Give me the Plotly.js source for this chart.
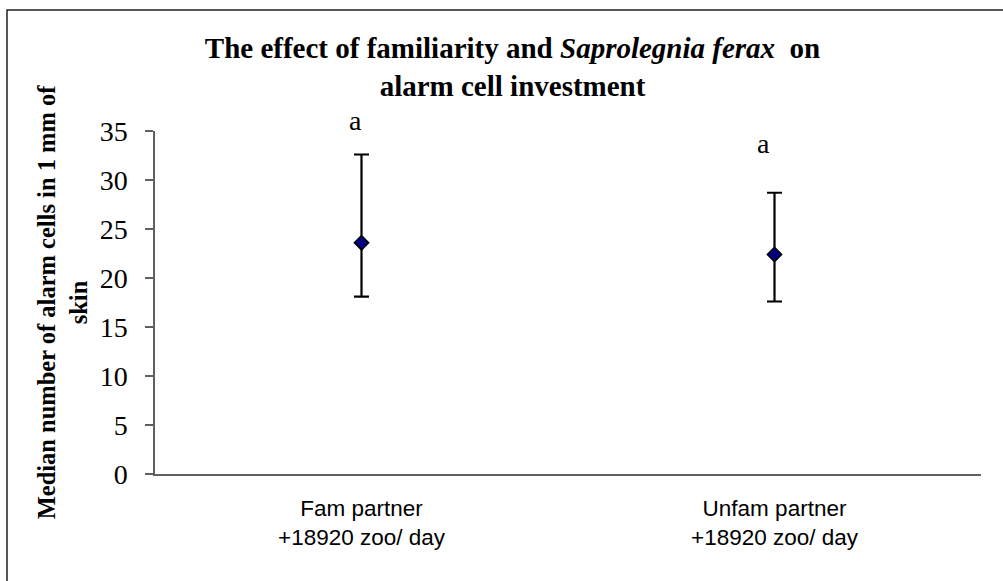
<!DOCTYPE html>
<html>
<head>
<meta charset="utf-8">
<script src="https://cdn.plot.ly/plotly-3.0.1.min.js"></script>
<style>
  html, body { margin: 0; padding: 0; background: #ffffff; }
  #chart { width: 1003px; height: 581px; }
</style>
</head>
<body>
<div id="chart"></div>
<script>
// Data
const categories = ["Fam partner<br>+18920 zoo/ day", "Unfam partner<br>+18920 zoo/ day"];
const medians = [23.6, 22.4];
const upperValues = [32.6, 28.7];
const lowerValues = [18.1, 17.6];
const letterLabels = ["a", "a"];
const letterHeights = [35.8, 33.4];
const yTickValues = [0, 5, 10, 15, 20, 25, 30, 35];
const yRange = [0, 35];

const errPlus = medians.map((m, i) => upperValues[i] - m);
const errMinus = medians.map((m, i) => m - lowerValues[i]);

const trace = {
  type: "scatter",
  mode: "markers",
  x: categories,
  y: medians,
  marker: {
    symbol: "diamond",
    size: 11,
    color: "#000080",
    line: { color: "#000000", width: 1.5 }
  },
  error_y: {
    type: "data",
    symmetric: false,
    array: errPlus,
    arrayminus: errMinus,
    color: "#000000",
    thickness: 2.2,
    width: 7.5
  },
  cliponaxis: false,
  hoverinfo: "x+y",
  showlegend: false
};

const letterShifts = [-6, -11];
// letters sit above the axis range, so they are placed in paper units of the y scale
const annotations = letterLabels.map((t, i) => ({
  x: categories[i],
  y: (letterHeights[i] - yRange[0]) / (yRange[1] - yRange[0]),
  xref: "x",
  yref: "paper",
  xanchor: "center",
  yanchor: "middle",
  text: t,
  showarrow: false,
  xshift: letterShifts[i],
  yshift: 3,
  font: { family: "Liberation Serif, Times New Roman, serif", size: 28, color: "#000000" }
}));

const layout = {
  width: 1003,
  height: 581,
  margin: { l: 155, r: 22, t: 131, b: 107, autoexpand: false },
  paper_bgcolor: "#ffffff",
  plot_bgcolor: "#ffffff",
  title: {
    text: "<b>The effect of familiarity and <i>Saprolegnia ferax</i>  on<br>alarm cell investment</b>",
    font: { family: "Liberation Serif, Times New Roman, serif", size: 29, color: "#000000" },
    xref: "container",
    yref: "container",
    x: 0.511,
    xanchor: "center",
    y: 0.9,
    yanchor: "middle"
  },
  xaxis: {
    type: "category",
    range: [-0.5, 1.5],
    showline: true,
    linecolor: "#606060",
    linewidth: 1.5,
    ticks: "",
    showgrid: false,
    zeroline: false,
    ticklabelstandoff: 13,
    tickfont: { family: "Liberation Sans, Arial, sans-serif", size: 22.5, color: "#000000" },
    automargin: false,
    fixedrange: true
  },
  yaxis: {
    range: yRange,
    tickvals: yTickValues,
    ticktext: yTickValues.map(String),
    showline: true,
    linecolor: "#606060",
    linewidth: 1.5,
    ticks: "outside",
    ticklen: 8,
    tickwidth: 1.5,
    tickcolor: "#606060",
    showgrid: false,
    zeroline: false,
    ticklabelstandoff: 12,
    tickfont: { family: "Liberation Serif, Times New Roman, serif", size: 28, color: "#000000" },
    title: {
      text: "<b>Median number of alarm cells in 1 mm of<br>skin</b>",
      font: { family: "Liberation Serif, Times New Roman, serif", size: 24.5, color: "#000000" },
      standoff: 5
    },
    automargin: false,
    fixedrange: true
  },
  shapes: [{
    type: "rect",
    xref: "paper",
    yref: "paper",
    x0: (7 - 155) / 826,
    x1: (1010 - 155) / 826,
    y0: (474 - 595) / 343,
    y1: (474 - 10) / 343,
    line: { color: "#222222", width: 1.5 },
    fillcolor: "rgba(0,0,0,0)",
    layer: "below"
  }],
  annotations: annotations
};

Plotly.newPlot("chart", [trace], layout, { displayModeBar: false, staticPlot: false });
</script>
</body>
</html>
